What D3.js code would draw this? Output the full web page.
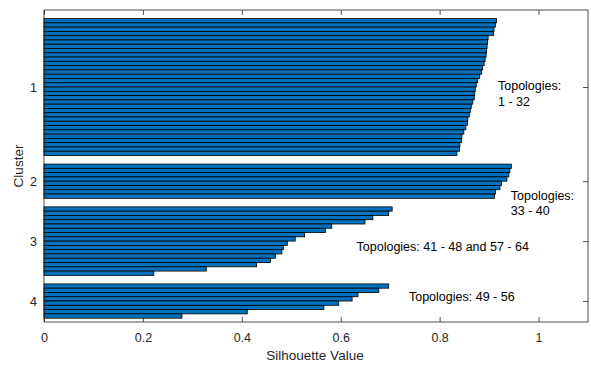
<!DOCTYPE html>
<html>
<head>
<meta charset="utf-8">
<script src="https://cdn.jsdelivr.net/npm/d3@7"></script>
<style>
  body { margin: 0; background: #fff; }
  svg { display: block; font-family: "Liberation Sans", Arial, Helvetica, sans-serif; }
</style>
</head>
<body>
<svg id="chart" width="591" height="365"></svg>
<script>
// ---- Data ----
const clusterNames = ["1", "2", "3", "4"];
const cluster1 = [0.915, 0.913, 0.910, 0.909, 0.898, 0.897, 0.896, 0.895, 0.894, 0.892,
                  0.890, 0.887, 0.885, 0.881, 0.877, 0.874, 0.872, 0.871, 0.870, 0.867,
                  0.864, 0.862, 0.860, 0.857, 0.856, 0.853, 0.849, 0.845, 0.844, 0.841,
                  0.840, 0.835];
const cluster2 = [0.945, 0.942, 0.940, 0.936, 0.925, 0.922, 0.913, 0.911];
const cluster3 = [0.704, 0.697, 0.665, 0.649, 0.582, 0.569, 0.527, 0.508,
                  0.492, 0.484, 0.481, 0.468, 0.458, 0.430, 0.328, 0.222];
const cluster4 = [0.697, 0.677, 0.635, 0.623, 0.596, 0.566, 0.411, 0.279];
const xTicks = [0, 0.2, 0.4, 0.6, 0.8, 1];
const xTickLabels = ["0", "0.2", "0.4", "0.6", "0.8", "1"];
const annotations = [
  { lines: ["Topologies:", "1 - 32"], v: 0.918, row: 19.3 },
  { lines: ["Topologies:", "33 - 40"], v: 0.944, row: 44.8 },
  { lines: ["Topologies: 41 - 48 and 57 - 64"], v: 0.632, row: 56.9 },
  { lines: ["Topologies: 49 - 56"], v: 0.738, row: 68.55 }
];

// ---- Layout ----
const svg = d3.select("#chart");
const mLeft = 44, mRight = 588, mTop = 10, mBottom = 322;
const axisColor = "#262626";
const space = 2;

const x = d3.scaleLinear().domain([0, 1.1]).range([mLeft, mRight]);
const y = d3.scaleLinear().domain([0.5, 73.4]).range([mTop, mBottom]);

// Build row positions like MATLAB's silhouette plot
const clusters = [cluster1, cluster2, cluster3, cluster4];
const rows = [];
const tickRows = [];
let cum = 0;
clusters.forEach((vals, i) => {
  const start = space * (i + 1) + cum;
  vals.forEach((v, j) => rows.push({ row: start + j + 1, v }));
  tickRows.push(start + (vals.length + 1) / 2);
  cum += vals.length;
});

// Bars
svg.append("g").selectAll("rect").data(rows).join("rect")
  .attr("x", x(0))
  .attr("y", d => y(d.row - 0.5))
  .attr("width", d => x(d.v) - x(0))
  .attr("height", d => y(d.row + 0.5) - y(d.row - 0.5))
  .attr("fill", "#0072BD")
  .attr("stroke", "#000")
  .attr("stroke-width", 0.8);

// Box
svg.append("rect")
  .attr("x", mLeft).attr("y", mTop)
  .attr("width", mRight - mLeft).attr("height", mBottom - mTop)
  .attr("fill", "none").attr("stroke", axisColor).attr("stroke-width", 0.8);

// X axis (bottom)
const xAxis = d3.axisBottom(x).tickValues(xTicks)
  .tickFormat((d, i) => xTickLabels[i]).tickSizeInner(-5).tickSizeOuter(0).tickPadding(11);
const gx = svg.append("g").attr("transform", `translate(0,${mBottom})`).call(xAxis);
gx.select(".domain").remove();
gx.selectAll("line").attr("stroke", axisColor).attr("stroke-width", 0.8);
gx.selectAll("text").attr("fill", axisColor).attr("font-size", 12.5)
  .attr("font-family", "Liberation Sans, Arial, sans-serif");

// X axis (top ticks)
const xTop = d3.axisTop(x).tickValues(xTicks).tickFormat("").tickSizeInner(-5).tickSizeOuter(0);
const gxt = svg.append("g").attr("transform", `translate(0,${mTop})`).call(xTop);
gxt.select(".domain").remove();
gxt.selectAll("line").attr("stroke", axisColor).attr("stroke-width", 0.8);

// Y axis (left)
const yAxis = d3.axisLeft(y).tickValues(tickRows)
  .tickFormat((d, i) => clusterNames[i]).tickSizeInner(-5).tickSizeOuter(0).tickPadding(7);
const gy = svg.append("g").attr("transform", `translate(${mLeft},0)`).call(yAxis);
gy.select(".domain").remove();
gy.selectAll("line").attr("stroke", axisColor).attr("stroke-width", 0.8);
gy.selectAll("text").attr("fill", axisColor).attr("font-size", 12.5)
  .attr("font-family", "Liberation Sans, Arial, sans-serif");

// Y axis (right ticks)
const yRight = d3.axisRight(y).tickValues(tickRows).tickFormat("").tickSizeInner(-5).tickSizeOuter(0);
const gyr = svg.append("g").attr("transform", `translate(${mRight},0)`).call(yRight);
gyr.select(".domain").remove();
gyr.selectAll("line").attr("stroke", axisColor).attr("stroke-width", 0.8);

// Axis labels
svg.append("text")
  .attr("x", (mLeft + mRight) / 2 - 1).attr("y", 360)
  .attr("text-anchor", "middle").attr("font-size", 13.5).attr("fill", axisColor)
  .text("Silhouette Value");
svg.append("text")
  .attr("transform", `translate(23,${(mTop + mBottom) / 2}) rotate(-90)`)
  .attr("text-anchor", "middle").attr("font-size", 13.5).attr("fill", axisColor)
  .text("Cluster");

// Annotations
annotations.forEach(a => {
  const t = svg.append("text")
    .attr("x", x(a.v)).attr("y", y(a.row))
    .attr("font-size", 12.5).attr("fill", "#000");
  a.lines.forEach((ln, i) => {
    t.append("tspan").attr("x", x(a.v)).attr("dy", i === 0 ? "0" : "15.7").text(ln);
  });
});
</script>
</body>
</html>
